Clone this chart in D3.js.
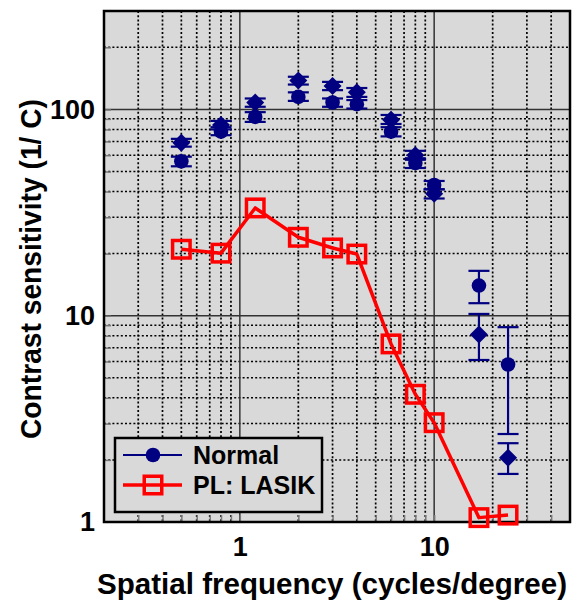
<!DOCTYPE html>
<html><head><meta charset="utf-8">
<script src="https://cdn.jsdelivr.net/npm/d3@7/dist/d3.min.js"></script>
<style>
html,body{margin:0;padding:0;background:#fff;}
svg text{font-family:"Liberation Sans",Arial,sans-serif;font-weight:bold;fill:#000;}
</style></head>
<body><svg id="c" width="572" height="606"></svg>
<script>
// ---- data ----
const freq = [0.5, 0.8, 1.2, 2, 3, 4, 6, 8, 10, 17, 24];
const normalCircle   = [56, 78, 92, 115, 108, 106, 78, 55, 43, 14.0, 5.8];
const normalCircleHi = [59, 82, 97, 121, 113, 111, 82, 58, 45, 16.5, 8.8];
const normalCircleLo = [53, 75, 87, 110, 103, 101, 74, 52, 41, 11.5, 2.67];
const normalDiamond   = [69, 84, 108, 138, 130, 121, 89, 60, 39, 8.1, 2.05];
const normalDiamondHi = [72, 88, 113, 144, 136, 127, 94, 63, 41, 10.2, 2.41];
const normalDiamondLo = [66, 80, 103, 132, 124, 115, 85, 57, 37, 6.1, 1.71];
const lasik = [21.0, 20.1, 33.3, 24.0, 21.3, 19.9, 7.3, 4.16, 3.03, 1.05, 1.08];
const xTickLabels = [1, 10];
const yTickLabels = [1, 10, 100];
const seriesNames = ["Normal", "PL: LASIK"];
const xTitle = "Spatial frequency (cycles/degree)";
const yTitle = "Contrast sensitivity (1/ C)";

// ---- layout ----
const L = 104, R = 570, T = 11, B = 522;
const navy = "#000080", red = "#ff0000";
const svg = d3.select("#c");
const x = d3.scaleLog().domain([0.2, 50]).range([L, R]);
const y = d3.scaleLog().domain([1, 300]).range([B, T]);

svg.append("rect").attr("x", L).attr("y", T).attr("width", R - L).attr("height", B - T).attr("fill", "#d9d9d9");

const isMajor = v => Math.abs(Math.log10(v) - Math.round(Math.log10(v))) < 1e-9;
const xAll = x.ticks().filter(v => v > 0.2 + 1e-9 && v < 50 - 1e-9);
const yAll = y.ticks().filter(v => v > 1 + 1e-9 && v < 300 - 1e-9);

const grid = svg.append("g");
grid.selectAll(".vx").data(xAll.filter(v => !isMajor(v))).join("line")
  .attr("x1", d => x(d)).attr("x2", d => x(d)).attr("y1", T).attr("y2", B)
  .attr("stroke", "#000").attr("stroke-width", 1.7).attr("stroke-dasharray", "2,2.2");
grid.selectAll(".hy").data(yAll.filter(v => !isMajor(v))).join("line")
  .attr("y1", d => y(d)).attr("y2", d => y(d)).attr("x1", L).attr("x2", R)
  .attr("stroke", "#000").attr("stroke-width", 1.5).attr("stroke-dasharray", "2,2.2");
grid.selectAll(".mx").data(xAll.filter(isMajor)).join("line")
  .attr("x1", d => x(d)).attr("x2", d => x(d)).attr("y1", T).attr("y2", B)
  .attr("stroke", "#333").attr("stroke-width", 1.5);
grid.selectAll(".my").data(yAll.filter(isMajor)).join("line")
  .attr("y1", d => y(d)).attr("y2", d => y(d)).attr("x1", L).attr("x2", R)
  .attr("stroke", "#333").attr("stroke-width", 1.5);

// minor inward ticks
const tx = svg.append("g").attr("transform", `translate(0,${B})`)
  .call(d3.axisBottom(x).tickValues(xAll).tickSize(-7).tickFormat(""));
const ty = svg.append("g").attr("transform", `translate(${L},0)`)
  .call(d3.axisLeft(y).tickValues(yAll).tickSize(-7).tickFormat(""));
[tx, ty].forEach(g => { g.select(".domain").remove(); g.selectAll("line").attr("stroke", "#777").attr("stroke-width", 1.5); });

// frame
svg.append("rect").attr("x", L).attr("y", T).attr("width", R - L).attr("height", B - T)
  .attr("fill", "none").attr("stroke", "#000").attr("stroke-width", 2.5);

// tick labels
const ax = svg.append("g").attr("transform", `translate(0,${B})`)
  .call(d3.axisBottom(x).tickValues(xTickLabels).tickSize(0).tickPadding(15).tickFormat(d3.format("d")));
const ay = svg.append("g").attr("transform", `translate(${L},0)`)
  .call(d3.axisLeft(y).tickValues(yTickLabels).tickSize(0).tickPadding(9).tickFormat(d3.format("d")));
[ax, ay].forEach(g => {
  g.select(".domain").remove();
  g.selectAll("text").attr("font-size", 27).attr("fill", "#000")
    .style("font-family", '"Liberation Sans",Arial,sans-serif').style("font-weight", "bold");
});

// titles
svg.append("text").attr("x", 332).attr("y", 594).attr("text-anchor", "middle")
  .attr("font-size", 29.5).attr("textLength", 470).attr("lengthAdjust", "spacingAndGlyphs").text(xTitle);
svg.append("text").attr("transform", `translate(41,269) rotate(-90)`).attr("text-anchor", "middle")
  .attr("font-size", 29.5).attr("textLength", 340).attr("lengthAdjust", "spacingAndGlyphs").text(yTitle);

// error bars + markers
const capW = 10.5;
function errBars(vals, hi, lo) {
  const g = svg.append("g").attr("stroke", navy).attr("stroke-width", 2.2);
  freq.forEach((f, i) => {
    const cx = x(f);
    g.append("line").attr("x1", cx).attr("x2", cx).attr("y1", y(hi[i])).attr("y2", y(lo[i]));
    g.append("line").attr("x1", cx - capW).attr("x2", cx + capW).attr("y1", y(hi[i])).attr("y2", y(hi[i]));
    g.append("line").attr("x1", cx - capW).attr("x2", cx + capW).attr("y1", y(lo[i])).attr("y2", y(lo[i]));
  });
}
errBars(normalDiamond, normalDiamondHi, normalDiamondLo);
errBars(normalCircle, normalCircleHi, normalCircleLo);
svg.append("g").selectAll("path").data(freq).join("path")
  .attr("d", (f, i) => { const cx = x(f), cy = y(normalDiamond[i]);
    return `M${cx},${cy - 9}L${cx + 9},${cy}L${cx},${cy + 9}L${cx - 9},${cy}Z`; })
  .attr("fill", navy);
svg.append("g").selectAll("circle").data(freq).join("circle")
  .attr("cx", f => x(f)).attr("cy", (f, i) => y(normalCircle[i])).attr("r", 7.3).attr("fill", navy);

// LASIK line
const line = d3.line().x((d, i) => x(freq[i])).y(d => y(d));
svg.append("path").datum(lasik).attr("d", line).attr("fill", "none")
  .attr("stroke", red).attr("stroke-width", 3.5).attr("stroke-linejoin", "round");
const sq = 17.5;
svg.append("g").selectAll("rect").data(lasik).join("rect")
  .attr("x", (d, i) => x(freq[i]) - sq / 2).attr("y", d => y(d) - sq / 2)
  .attr("width", sq).attr("height", sq).attr("fill", "none").attr("stroke", red).attr("stroke-width", 3.5);

// legend
const lg = svg.append("g");
lg.append("rect").attr("x", 115).attr("y", 438).attr("width", 207).attr("height", 74)
  .attr("fill", "#d9d9d9").attr("stroke", "#000").attr("stroke-width", 2.5);
lg.append("line").attr("x1", 123).attr("x2", 182).attr("y1", 455).attr("y2", 455).attr("stroke", navy).attr("stroke-width", 2);
lg.append("circle").attr("cx", 153).attr("cy", 455).attr("r", 7.3).attr("fill", navy);
lg.append("line").attr("x1", 123).attr("x2", 182).attr("y1", 485).attr("y2", 485).attr("stroke", red).attr("stroke-width", 3.5);
lg.append("rect").attr("x", 153 - sq / 2).attr("y", 485 - sq / 2).attr("width", sq).attr("height", sq)
  .attr("fill", "none").attr("stroke", red).attr("stroke-width", 3.5);
lg.append("text").attr("x", 193).attr("y", 464).attr("font-size", 25).text(seriesNames[0]);
lg.append("text").attr("x", 193).attr("y", 494).attr("font-size", 25).text(seriesNames[1]);
</script></body></html>
